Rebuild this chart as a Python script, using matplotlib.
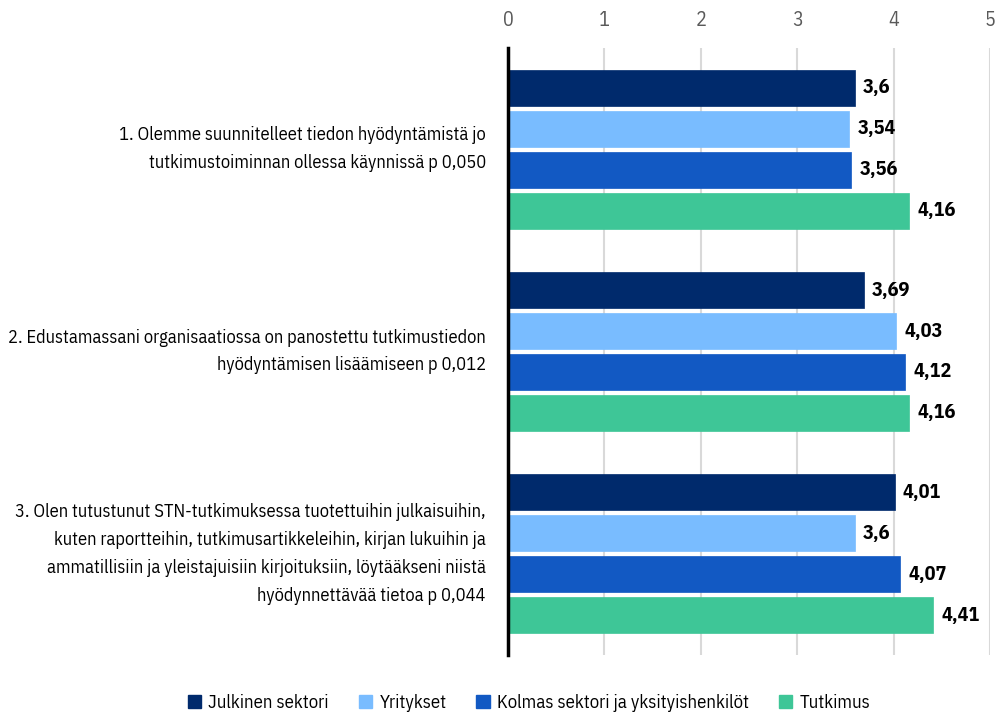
import matplotlib
matplotlib.use("Agg")
import matplotlib.pyplot as plt
from matplotlib.patches import Patch
import numpy as np

categories = [
    "1. Olemme suunnitelleet tiedon hyödyntämistä jo\ntutkimustoiminnan ollessa käynnissä p 0,050",
    "2. Edustamassani organisaatiossa on panostettu tutkimustiedon\nhyödyntämisen lisäämiseen p 0,012",
    "3. Olen tutustunut STN-tutkimuksessa tuotettuihin julkaisuihin,\nkuten raportteihin, tutkimusartikkeleihin, kirjan lukuihin ja\nammatillisiin ja yleistajuisiin kirjoituksiin, löytääkseni niistä\nhyödynnettävää tietoa p 0,044",
]
series_names = ["Julkinen sektori", "Yritykset", "Kolmas sektori ja yksityishenkilöt", "Tutkimus"]
julkinen = [3.6, 3.69, 4.01]
yritykset = [3.54, 4.03, 3.6]
kolmas = [3.56, 4.12, 4.07]
tutkimus = [4.16, 4.16, 4.41]
value_labels = [
    ["3,6", "3,69", "4,01"],
    ["3,54", "4,03", "3,6"],
    ["3,56", "4,12", "4,07"],
    ["4,16", "4,16", "4,41"],
]
xticks = [0, 1, 2, 3, 4, 5]
colors = ["#002a6c", "#79bcff", "#1259c3", "#3ec697"]

plt.rcParams["font.family"] = ["IBM Plex Sans Condensed", "DejaVu Sans"]
plt.rcParams["font.stretch"] = "condensed"

fig = plt.figure(figsize=(9.97, 7.17), dpi=100)
ax = fig.add_axes([508/997, 1-655/717, (990-508)/997, (655-48)/717])

series = [julkinen, yritykset, kolmas, tutkimus]
y = np.arange(len(categories))
pitch = 0.2025
h = 0.178
for j, (vals, c) in enumerate(zip(series, colors)):
    pos = y + (j - 1.5) * pitch
    ax.barh(pos, vals, height=h, color=c, edgecolor=c, linewidth=0.5, zorder=3)
    for p, v, lab in zip(pos, vals, value_labels[j]):
        ax.text(v + 0.085, p, lab, va="center", ha="left", fontsize=14.5,
                fontweight="bold", color="black", zorder=4)

ax.set_ylim(2.5, -0.5)
ax.set_xlim(0, 5)
ax.set_xticks(xticks)
ax.set_xticklabels([str(t) for t in xticks])
ax.xaxis.tick_top()
ax.tick_params(axis="x", length=0, pad=13, labelsize=14.5, labelcolor="#595959")
ax.set_yticks(y)
ax.set_yticklabels(categories, fontsize=13.2, linespacing=1.7)
ax.tick_params(axis="y", length=0, pad=16)
for lbl in ax.get_yticklabels():
    lbl.set_horizontalalignment("right")
    lbl.set_verticalalignment("center")
ax.grid(axis="x", color="#d9d9d9", linewidth=1.5, zorder=0)
ax.set_axisbelow(True)
for s in ["top", "right", "bottom"]:
    ax.spines[s].set_visible(False)
ax.spines["left"].set_linewidth(2.5)
ax.spines["left"].set_color("black")
ax.spines["left"].set_zorder(5)

handles = [Patch(facecolor=c, edgecolor=c) for c in colors]
fig.legend(handles, series_names, loc="center", bbox_to_anchor=(529/997, 1-703/717),
           ncol=4, frameon=False, fontsize=13.5, handlelength=0.7, handleheight=0.7,
           columnspacing=1.6, handletextpad=0.4)

fig.savefig("out.png", dpi=100)
